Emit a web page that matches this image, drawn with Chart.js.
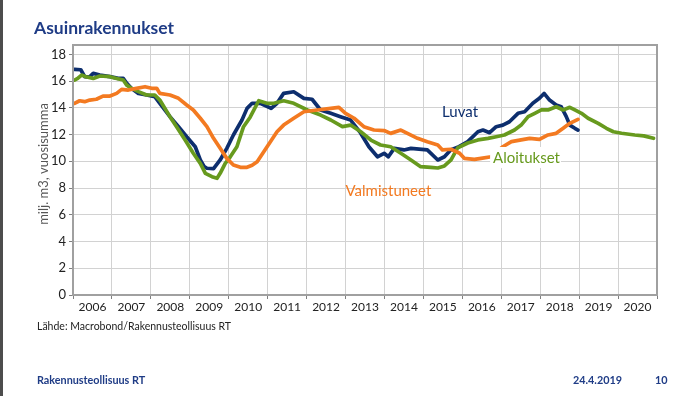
<!DOCTYPE html>
<html><head><meta charset="utf-8">
<script src="https://cdn.jsdelivr.net/npm/chart.js@4"></script>
<style>
html,body{margin:0;padding:0;background:#fff;width:696px;height:396px;overflow:hidden}
canvas{display:block}
</style></head><body>
<canvas id="c" width="696" height="396"></canvas>
<script>
// ---- data (x = year as decimal) ----
const luvatT = [2006.04,2006.2,2006.3,2006.42,2006.52,2006.69,2006.95,2007.16,2007.29,2007.38,2007.5,2007.68,2007.89,2008.1,2008.23,2008.49,2008.71,2008.92,2009.14,2009.27,2009.37,2009.44,2009.61,2009.78,2009.95,2010.12,2010.34,2010.47,2010.6,2010.81,2011.09,2011.24,2011.41,2011.67,2011.93,2012.14,2012.36,2012.62,2012.87,2013.13,2013.39,2013.6,2013.82,2013.99,2014.1,2014.25,2014.5,2014.68,2015.1,2015.37,2015.54,2015.7,2015.88,2016.14,2016.4,2016.53,2016.7,2016.87,2017.04,2017.21,2017.43,2017.6,2017.81,2017.98,2018.1,2018.24,2018.41,2018.54,2018.67,2018.76,2018.89,2018.97];
const luvatV = [16.88,16.85,16.33,16.3,16.58,16.45,16.33,16.2,16.2,15.83,15.46,15.08,14.96,14.83,14.34,13.34,12.59,11.84,11.09,10.1,9.6,9.48,9.45,10.1,10.97,11.97,13.09,13.96,14.34,14.34,13.96,14.34,15.08,15.2,14.71,14.64,13.84,13.59,13.34,13.09,12.1,11.09,10.34,10.6,10.34,10.97,10.85,10.97,10.85,10.1,10.34,10.85,11.05,11.47,12.21,12.34,12.14,12.59,12.71,12.96,13.59,13.71,14.34,14.71,15.08,14.58,14.21,14.08,13.34,12.71,12.47,12.34];

const aloitT = [2006.04,2006.12,2006.22,2006.33,2006.52,2006.69,2006.95,2007.12,2007.29,2007.38,2007.5,2007.68,2007.89,2008.1,2008.23,2008.49,2008.66,2008.88,2009.09,2009.27,2009.4,2009.57,2009.7,2009.78,2009.91,2010.04,2010.21,2010.38,2010.55,2010.77,2010.98,2011.16,2011.41,2011.67,2012.02,2012.36,2012.62,2012.92,2013.13,2013.39,2013.65,2013.9,2014.16,2014.42,2014.68,2014.93,2015.19,2015.37,2015.54,2015.71,2015.88,2016.14,2016.4,2016.66,2016.87,2017.08,2017.34,2017.51,2017.69,2017.86,2018.03,2018.2,2018.41,2018.59,2018.76,2018.89,2019.06,2019.23,2019.49,2019.7,2019.88,2020.09,2020.43,2020.66,2020.91];
const aloitV = [16.08,16.2,16.45,16.33,16.2,16.38,16.33,16.2,16.08,15.7,15.46,15.21,14.96,14.96,14.58,13.34,12.59,11.59,10.6,9.85,9.1,8.85,8.73,9.1,9.85,10.34,11.09,12.59,13.3,14.53,14.34,14.34,14.53,14.34,13.84,13.46,13.09,12.59,12.71,12.21,11.59,11.22,11.09,10.6,10.1,9.6,9.55,9.5,9.65,10.1,11.0,11.37,11.6,11.72,11.84,11.97,12.34,12.71,13.34,13.59,13.84,13.84,14.08,13.84,14.04,13.84,13.59,13.22,12.84,12.47,12.21,12.1,11.97,11.9,11.72];

const valmT = [2006.04,2006.17,2006.3,2006.43,2006.6,2006.77,2006.95,2007.12,2007.25,2007.42,2007.63,2007.85,2008.02,2008.15,2008.23,2008.49,2008.71,2008.92,2009.09,2009.27,2009.44,2009.61,2009.78,2009.95,2010.12,2010.3,2010.47,2010.6,2010.73,2010.9,2011.07,2011.24,2011.41,2011.67,2011.93,2012.27,2012.62,2012.83,2013.0,2013.22,2013.47,2013.73,2013.99,2014.16,2014.42,2014.59,2014.85,2015.1,2015.37,2015.49,2015.71,2015.93,2016.05,2016.31,2016.48,2016.74,2017.04,2017.26,2017.51,2017.73,2017.98,2018.2,2018.41,2018.59,2018.76,2018.97];
const valmV = [14.34,14.53,14.46,14.58,14.64,14.88,14.88,15.08,15.38,15.33,15.46,15.58,15.46,15.46,15.08,14.96,14.71,14.21,13.84,13.22,12.59,11.72,10.97,10.22,9.72,9.55,9.55,9.7,9.97,10.72,11.47,12.21,12.71,13.22,13.71,13.84,13.96,14.04,13.59,13.22,12.59,12.34,12.3,12.09,12.34,12.09,11.72,11.47,11.22,10.85,10.9,10.6,10.22,10.15,10.22,10.34,11.09,11.47,11.6,11.72,11.64,11.97,12.09,12.47,12.84,13.14];

const yearLabels = ['2006','2007','2008','2009','2010','2011','2012','2013','2014','2015','2016','2017','2018','2019','2020'];
const seriesNames = ['Luvat','Aloitukset','Valmistuneet'];
const yTicks = [0,2,4,6,8,10,12,14,16,18];
const yTitle = 'milj. m3, vuosisumma';

// ---- styling ----
const NAVY = '#0d2e6e', GREEN = '#679a1e', ORANGE = '#f37a21';
const FONT = 'Lato, "Open Sans", sans-serif';
const toPts = (t, v) => t.map((x, i) => ({x, y: v[i]}));

const deco = {
  id: 'deco',
  beforeDraw(chart) {
    const c = chart.ctx;
    c.save();
    c.fillStyle = '#fff'; c.fillRect(0, 0, chart.width, chart.height);
    c.fillStyle = '#4d4d4d'; c.fillRect(0, 0, 3, chart.height);
    c.fillStyle = '#1f3c86';
    c.font = 'bold 17.5px ' + FONT; c.textBaseline = 'alphabetic'; c.textAlign = 'left';
    c.fillText('Asuinrakennukset', 34, 34);
    c.fillStyle = '#222';
    c.font = '10.5px ' + FONT;
    c.fillText('Lähde: Macrobond/Rakennusteollisuus RT', 37, 330);
    c.fillStyle = '#1f3c86';
    c.font = 'bold 10.8px ' + FONT;
    c.fillText('Rakennusteollisuus RT', 37, 384);
    c.fillText('24.4.2019', 573, 384);
    c.fillText('10', 655, 384);
    // y-axis title
    c.save();
    c.translate(44, 164); c.rotate(-Math.PI / 2);
    c.fillStyle = '#555'; c.font = '13px ' + FONT;
    c.textAlign = 'center'; c.textBaseline = 'middle';
    c.fillText(yTitle, 0, 0);
    c.restore();
    c.restore();
  },
  afterDatasetsDraw(chart) {
    const c = chart.ctx, a = chart.chartArea, xs = chart.scales.x, ys = chart.scales.y;
    c.save();
    c.font = '15px ' + FONT; c.textBaseline = 'middle'; c.textAlign = 'left';
    const lab = [
      [seriesNames[0], 2015.48, 13.7, NAVY, false],
      [seriesNames[2], 2013.0, 7.8, ORANGE, false],
      [seriesNames[1], 2016.79, 10.25, GREEN, true]
    ];
    lab.forEach(([txt, t, v, col, bg]) => {
      const px = xs.getPixelForValue(t), py = ys.getPixelForValue(v);
      if (bg) {
        const w = c.measureText(txt).width;
        c.fillStyle = '#fff'; c.fillRect(px - 3, py - 11, w + 4, 21);
      }
      c.fillStyle = col; c.fillText(txt, px, py);
    });
    c.strokeStyle = '#a0a0a0'; c.lineWidth = 2;
    c.strokeRect(a.left, a.top, a.right - a.left, a.bottom - a.top);
    c.restore();
  }
};

new Chart(document.getElementById('c'), {
  type: 'line',
  data: {
    datasets: [
      {label: seriesNames[2], data: toPts(valmT, valmV), borderColor: ORANGE},
      {label: seriesNames[1], data: toPts(aloitT, aloitV), borderColor: GREEN},
      {label: seriesNames[0], data: toPts(luvatT, luvatV), borderColor: NAVY}
    ].map(d => Object.assign(d, {borderWidth: 3.7, pointRadius: 0, tension: 0, fill: false, borderJoinStyle: 'round', borderCapStyle: 'round'}))
  },
  options: {
    responsive: false, animation: false, devicePixelRatio: 1,
    layout: {padding: {left: 0, top: 45, right: 39, bottom: 0}},
    plugins: {legend: {display: false}, tooltip: {enabled: false}},
    scales: {
      x: {
        type: 'linear', min: 2006, max: 2021,
        afterBuildTicks: s => { s.ticks = []; for (let v = 2006; v <= 2021.001; v += 0.5) s.ticks.push({value: Math.round(v * 2) / 2}); },
        afterFit: s => { s.height = 101; },
        grid: {
          color: ctx => (ctx.tick && ctx.tick.value % 1 === 0) ? '#d2d2d2' : 'rgba(0,0,0,0)',
          tickColor: ctx => (ctx.tick && ctx.tick.value % 1 === 0) ? '#808080' : 'rgba(0,0,0,0)',
          tickLength: 4, lineWidth: 1
        },
        border: {display: false},
        ticks: {
          autoSkip: false, maxRotation: 0, minRotation: 0, padding: 1,
          color: '#222', font: {family: FONT, size: 12},
          callback: v => (v % 1 === 0.5) ? yearLabels[Math.floor(v) - 2006] : ''
        }
      },
      y: {
        min: 0, max: 18.7,
        afterBuildTicks: s => { s.ticks = yTicks.map(v => ({value: v})); },
        afterFit: s => { s.width = 73; },
        grid: {color: '#d2d2d2', tickColor: '#808080', tickLength: 4, lineWidth: 1},
        border: {display: false},
        ticks: {color: '#222', font: {family: FONT, size: 13}, padding: 3}
      }
    }
  },
  plugins: [deco]
});
</script>
</body></html>
